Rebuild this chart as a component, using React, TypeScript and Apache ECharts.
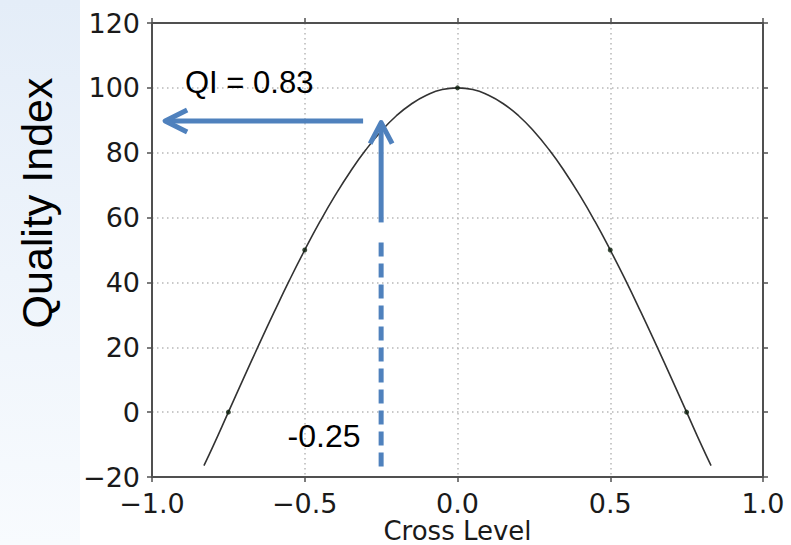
import React, { useEffect, useRef } from "react";
import * as echarts from "echarts";

// Curve (Cross Level -> Quality Index)
const crossLevel = [
  -0.83, -0.8, -0.75, -0.7, -0.65, -0.6, -0.55, -0.5, -0.45, -0.4, -0.35, -0.3, -0.25, -0.2, -0.15, -0.1, -0.05, 0,
  0.05, 0.1, 0.15, 0.2, 0.25, 0.3, 0.35, 0.4, 0.45, 0.5, 0.55, 0.6, 0.65, 0.7, 0.75, 0.8, 0.83,
];
const qualityIndex = [
  -16.5, -10.5, 0, 10.5, 20.8, 30.9, 40.7, 50, 58.8, 66.9, 74.3, 80.9, 86.6, 91.4, 95.1, 97.8, 99.5, 100,
  99.5, 97.8, 95.1, 91.4, 86.6, 80.9, 74.3, 66.9, 58.8, 50, 40.7, 30.9, 20.8, 10.5, 0, -10.5, -16.5,
];
// Marked points
const markerX = [-0.75, -0.5, 0, 0.5, 0.75];
const markerY = [0, 50, 100, 50, 0];

// Annotation values
const selectedLevel = -0.25;
const qiLevel = 89.8;
const qiLabel = "QI = 0.83";
const levelLabel = "-0.25";
const xTitle = "Cross Level";
const yTitle = "Quality Index";

const BLUE = "#4F81BD";
const AXIS = "#505050";
const TICK_FONT = "'DejaVu Sans', sans-serif";

const fmtMinus = (v: number, d: number) => {
  const s = Math.abs(v).toFixed(d);
  return v < 0 ? "\u2212" + s : s;
};

export default function App() {
  const ref = useRef<HTMLDivElement>(null);
  useEffect(() => {
    document.body.style.margin = "0";
    const chart = echarts.init(ref.current!, null, { renderer: "svg" });
    const splitLine = { show: true, lineStyle: { color: "#b8b8b8", width: 1.5, type: [1.5, 3.5] as any } };
    const axisLine = { show: true, onZero: false, lineStyle: { color: AXIS, width: 2 } };
    const axisTick = { show: true, inside: false, length: 5, lineStyle: { color: AXIS, width: 1.5 } };
    chart.setOption({
      animation: false,
      backgroundColor: "#ffffff",
      grid: { left: 152, right: 28, top: 23, bottom: 68, containLabel: false, outerBoundsMode: "none" },
      xAxis: [
        {
          type: "value",
          min: -1,
          max: 1,
          interval: 0.5,
          position: "bottom",
          axisLine,
          axisTick,
          splitLine,
          axisLabel: {
            formatter: (v: number) => fmtMinus(v, 1),
            fontFamily: TICK_FONT,
            fontSize: 27,
            lineHeight: 27,
            color: "#1a1a1a",
            margin: 13,
            showMinLabel: true,
            showMaxLabel: true,
          },
          name: xTitle,
          nameLocation: "middle",
          nameGap: 41,
          nameMoveOverlap: false,
          nameTextStyle: { fontFamily: TICK_FONT, fontSize: 26, color: "#1a1a1a", lineHeight: 26 },
        },
        {
          type: "value",
          min: -1,
          max: 1,
          interval: 0.5,
          position: "top",
          axisLine,
          axisTick,
          splitLine: { show: false },
          axisLabel: { show: false },
        },
      ],
      yAxis: [
        {
          type: "value",
          min: -20,
          max: 120,
          interval: 20,
          position: "left",
          axisLine,
          axisTick,
          splitLine,
          axisLabel: {
            formatter: (v: number) => fmtMinus(v, 0),
            fontFamily: TICK_FONT,
            fontSize: 27,
            color: "#1a1a1a",
            margin: 12,
            showMinLabel: true,
            showMaxLabel: true,
          },
        },
        {
          type: "value",
          min: -20,
          max: 120,
          interval: 20,
          position: "right",
          axisLine,
          axisTick,
          splitLine: { show: false },
          axisLabel: { show: false },
        },
      ],
      series: [
        {
          type: "line",
          data: crossLevel.map((x, i) => [x, qualityIndex[i]]),
          smooth: true,
          showSymbol: false,
          lineStyle: { color: "#333333", width: 1.6 },
          xAxisIndex: 0,
          yAxisIndex: 0,
          z: 3,
        },
        {
          type: "scatter",
          data: markerX.map((x, i) => [x, markerY[i]]),
          symbolSize: 5,
          itemStyle: { color: "#0d1f0d" },
          xAxisIndex: 0,
          yAxisIndex: 0,
          z: 4,
        },
      ],
    });

    const px = (x: number, y: number) =>
      chart.convertToPixel({ xAxisIndex: 0, yAxisIndex: 0 }, [x, y]) as number[];

    const hStart = px(-0.309, qiLevel);
    const hTip = px(-0.957, qiLevel);
    const vStart = px(selectedLevel, 58.5);
    const vTip = px(selectedLevel, 89.3);
    const dTop = px(selectedLevel, 52.3);
    const dBot = px(selectedLevel, -17);
    const arrowStyle = { stroke: BLUE, lineWidth: 5, lineJoin: "round", lineCap: "butt", fill: null };

    chart.setOption({
      graphic: [
        {
          type: "rect",
          z: -10,
          shape: { x: 0, y: 0, width: 80, height: 545 },
          style: {
            fill: new echarts.graphic.LinearGradient(0, 0, 0, 1, [
              { offset: 0, color: "#e4edf8" },
              { offset: 1, color: "#f8fbfe" },
            ]),
          },
        },
        {
          type: "text",
          x: 37,
          y: 203,
          rotation: Math.PI / 2,
          style: {
            text: yTitle,
            fontFamily: "'Liberation Sans', Arial, sans-serif",
            fontSize: 43,
            fill: "#000",
            align: "center",
            verticalAlign: "middle",
          },
        },
        {
          type: "line",
          shape: { x1: hStart[0], y1: hStart[1], x2: hTip[0] + 3, y2: hTip[1] },
          style: { stroke: BLUE, lineWidth: 5 },
          z: 10,
        },
        {
          type: "polyline",
          shape: {
            points: [
              [hTip[0] + 22, hTip[1] - 11],
              [hTip[0], hTip[1]],
              [hTip[0] + 22, hTip[1] + 11],
            ],
          },
          style: arrowStyle,
          z: 10,
        },
        {
          type: "line",
          shape: { x1: vStart[0], y1: vStart[1], x2: vTip[0], y2: vTip[1] + 3 },
          style: { stroke: BLUE, lineWidth: 5 },
          z: 10,
        },
        {
          type: "polyline",
          shape: {
            points: [
              [vTip[0] - 11, vTip[1] + 21],
              [vTip[0], vTip[1]],
              [vTip[0] + 11, vTip[1] + 21],
            ],
          },
          style: arrowStyle,
          z: 10,
        },
        {
          type: "line",
          shape: { x1: dTop[0], y1: dTop[1], x2: dBot[0], y2: dBot[1] },
          style: { stroke: BLUE, lineWidth: 5, lineDash: [14, 7] },
          z: 10,
        },
        {
          type: "text",
          x: 185,
          y: 82,
          style: {
            text: qiLabel,
            fontFamily: "'Liberation Sans', Arial, sans-serif",
            fontSize: 31,
            fill: "#000",
            align: "left",
            verticalAlign: "middle",
          },
          z: 10,
        },
        {
          type: "text",
          x: 324,
          y: 436,
          style: {
            text: levelLabel,
            fontFamily: "'Liberation Sans', Arial, sans-serif",
            fontSize: 32,
            fill: "#000",
            align: "center",
            verticalAlign: "middle",
          },
          z: 10,
        },
      ],
    });

    return () => chart.dispose();
  }, []);
  return (
    <div
      ref={ref}
      style={{ position: "absolute", left: 0, top: 0, width: 791, height: 545 }}
    />
  );
}
